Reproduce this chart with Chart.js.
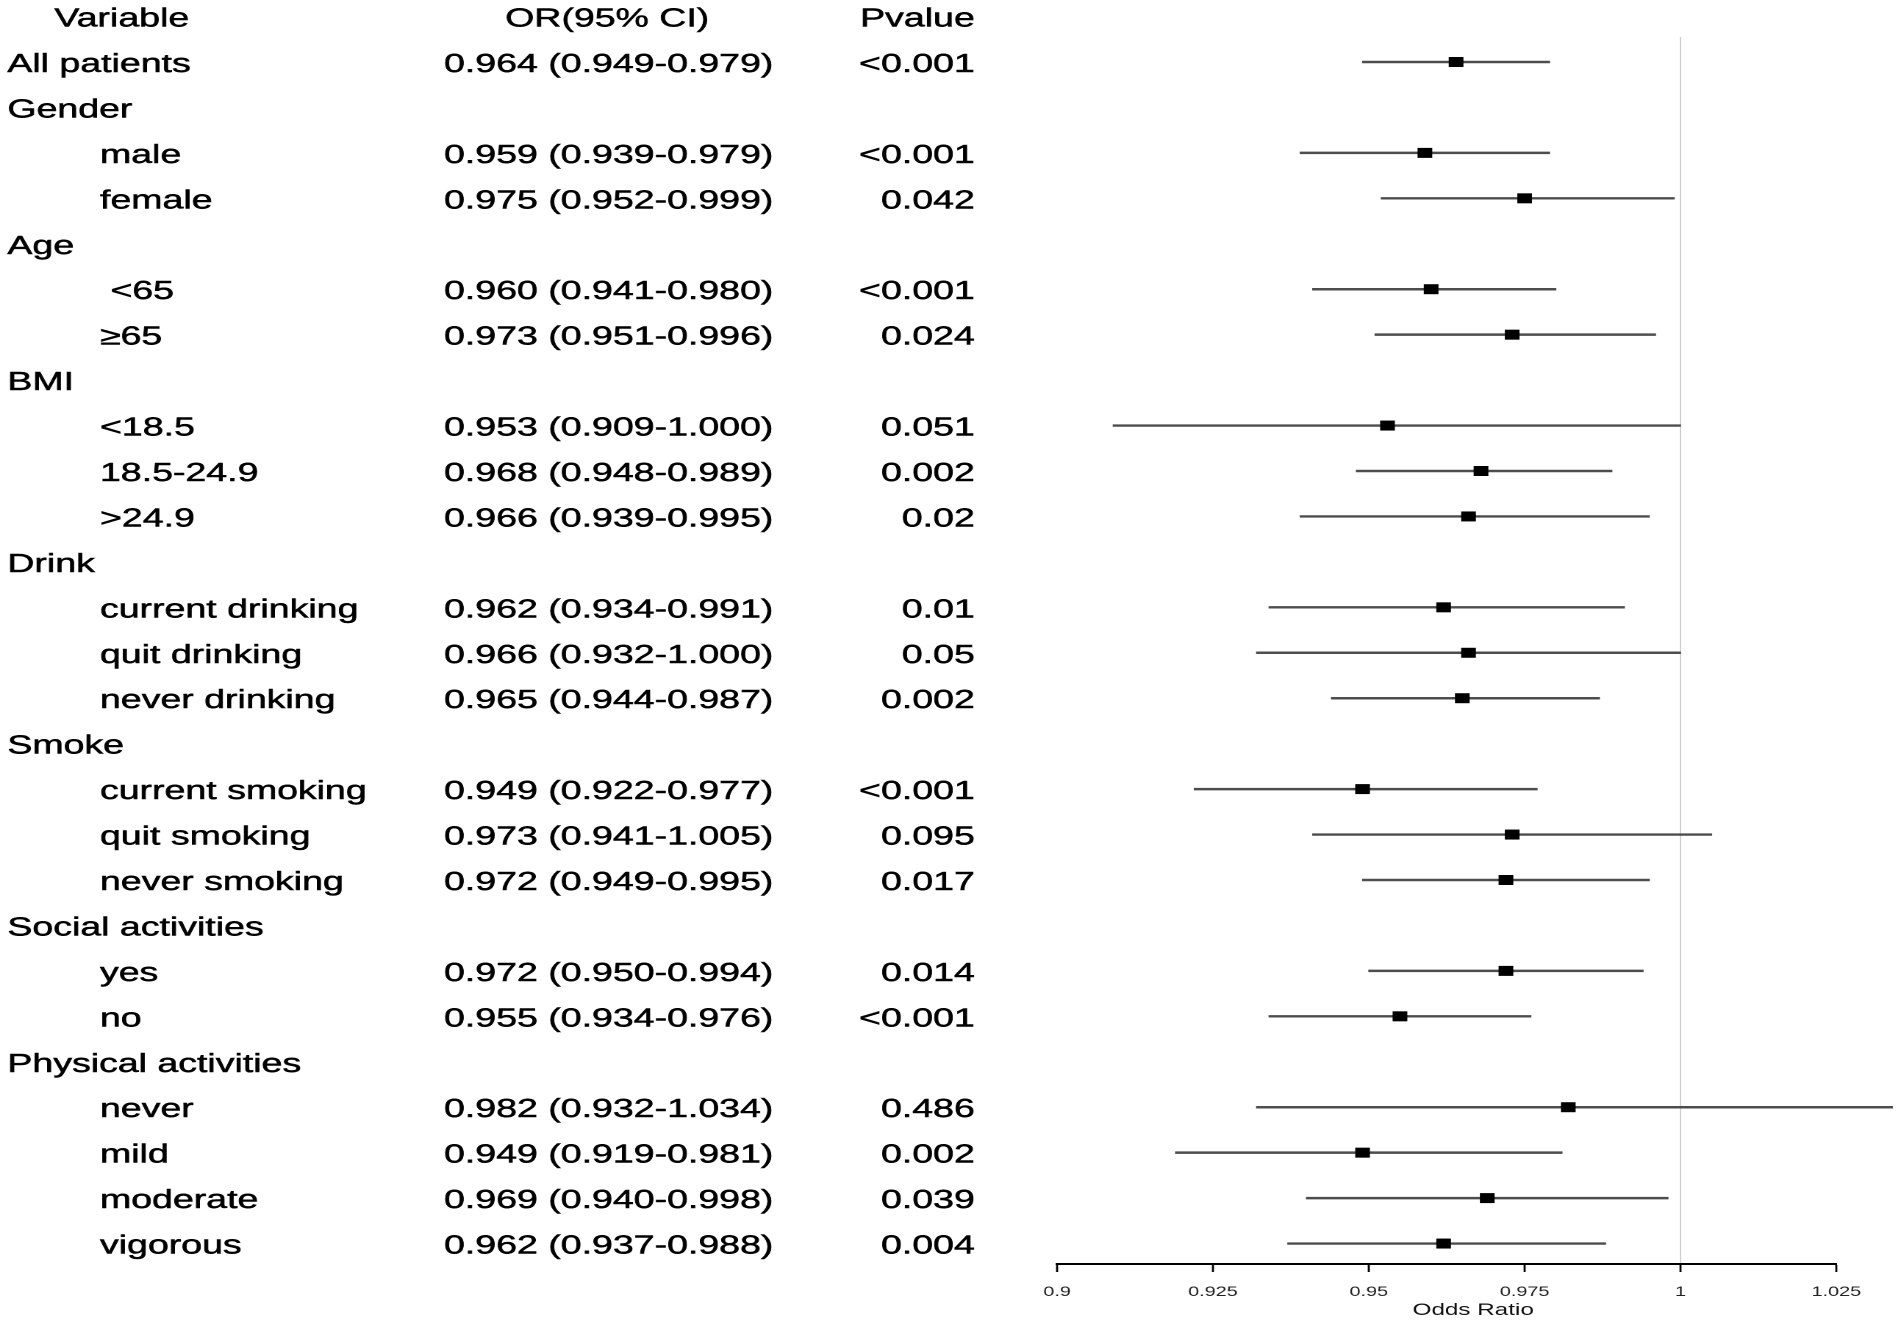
<!DOCTYPE html>
<html>
<head>
<meta charset="utf-8">
<title>Odds ratio forest plot</title>
<script src="https://cdn.jsdelivr.net/npm/chart.js@4.4.1/dist/chart.umd.min.js"></script>
<style>
  html, body { margin: 0; padding: 0; background: #fff; }
  canvas { display: block; }
</style>
</head>
<body>
<!-- the original figure is a horizontally stretched plot, so we draw narrow and let CSS widen it -->
<canvas id="forest" width="1293" height="1321" style="width:1901px;height:1321px"></canvas>
<script>
// ---- data ----
const variables = [
  'All patients', 'Gender', 'male', 'female', 'Age', ' <65', '\u226565',
  'BMI', '<18.5', '18.5-24.9', '>24.9', 'Drink', 'current drinking', 'quit drinking',
  'never drinking', 'Smoke', 'current smoking', 'quit smoking', 'never smoking',
  'Social activities', 'yes', 'no', 'Physical activities', 'never', 'mild', 'moderate', 'vigorous'
];
// 1 = group heading (no indent), 0 = sub item
const isGroup = [1, 1, 0, 0, 1, 0, 0, 1, 0, 0, 0, 1, 0, 0, 0, 1, 0, 0, 0, 1, 0, 0, 1, 0, 0, 0, 0];

const oddsRatio = [0.964, null, 0.959, 0.975, null, 0.960, 0.973, null, 0.953, 0.968, 0.966, null,
  0.962, 0.966, 0.965, null, 0.949, 0.973, 0.972, null, 0.972, 0.955, null, 0.982, 0.949, 0.969, 0.962];
const lowerCI = [0.949, null, 0.939, 0.952, null, 0.941, 0.951, null, 0.909, 0.948, 0.939, null,
  0.934, 0.932, 0.944, null, 0.922, 0.941, 0.949, null, 0.950, 0.934, null, 0.932, 0.919, 0.940, 0.937];
const upperCI = [0.979, null, 0.979, 0.999, null, 0.980, 0.996, null, 1.000, 0.989, 0.995, null,
  0.991, 1.000, 0.987, null, 0.977, 1.005, 0.995, null, 0.994, 0.976, null, 1.034, 0.981, 0.998, 0.988];
const pValues = ['<0.001', '', '<0.001', '0.042', '', '<0.001', '0.024', '', '0.051', '0.002', '0.02', '',
  '0.01', '0.05', '0.002', '', '<0.001', '0.095', '0.017', '', '0.014', '<0.001', '', '0.486', '0.002', '0.039', '0.004'];

const headers = ['Variable', 'OR(95% CI)', 'Pvalue'];
const tickValues = [0.9, 0.925, 0.95, 0.975, 1, 1.025];
const tickLabels = ['0.9', '0.925', '0.95', '0.975', '1', '1.025'];
const axisTitle = 'Odds Ratio';

const FONT = '"Liberation Sans", Arial, sans-serif';

// row 0 is the header, data rows start at 1
const ciBars = [];
const orPoints = [];
variables.forEach((v, i) => {
  if (oddsRatio[i] === null) return;
  ciBars.push({ y: i + 1, x: [lowerCI[i], upperCI[i]] });
  orPoints.push({ y: i + 1, x: oddsRatio[i] });
});

// text table on the left + axis title
const tablePlugin = {
  id: 'forestTable',
  afterDraw(chart) {
    const { ctx, scales: { y } } = chart;
    const rowY = r => y.getPixelForValue(r) + 10;
    // slight stroke so the text weight is closer to the (blurry) original
    const put = (txt, x, yy) => { ctx.fillText(txt, x, yy); ctx.strokeText(txt, x, yy); };
    ctx.save();
    ctx.fillStyle = '#000';
    ctx.strokeStyle = '#000';
    ctx.lineWidth = 0.5;
    ctx.font = '25.5px ' + FONT;

    ctx.textAlign = 'left';
    put(headers[0], 37, rowY(0));
    ctx.textAlign = 'center';
    put(headers[1], 413, rowY(0));
    ctx.textAlign = 'right';
    put(headers[2], 663, rowY(0));

    variables.forEach((name, i) => {
      const yy = rowY(i + 1);
      ctx.textAlign = 'left';
      put(name, isGroup[i] ? 5 : 68, yy);
      if (oddsRatio[i] !== null) {
        const txt = oddsRatio[i].toFixed(3) + ' (' + lowerCI[i].toFixed(3) + '-' + upperCI[i].toFixed(3) + ')';
        put(txt, 302, yy);
      }
      ctx.textAlign = 'right';
      put(pValues[i], 663, yy);
    });

    ctx.font = '16.5px ' + FONT;
    ctx.textAlign = 'center';
    ctx.fillStyle = '#111';
    ctx.fillText(axisTitle, 1002, 1315);
    ctx.restore();
  }
};

new Chart(document.getElementById('forest'), {
  type: 'scatter',
  data: {
    datasets: [
      {
        type: 'scatter',
        order: 0,
        data: orPoints,
        pointStyle: 'rect',
        pointRadius: 7.07,
        backgroundColor: '#000',
        borderWidth: 0,
        clip: false
      },
      {
        type: 'bar',
        order: 1,
        indexAxis: 'y',
        data: ciBars,
        backgroundColor: '#4d4d4d',
        borderWidth: 0,
        barThickness: 1.8,
        clip: false
      }
    ]
  },
  options: {
    responsive: false,
    devicePixelRatio: 2,
    animation: false,
    events: [],
    layout: { padding: { left: 719, right: 44, top: 37, bottom: 0 } },
    plugins: {
      legend: { display: false },
      tooltip: { enabled: false }
    },
    scales: {
      x: {
        type: 'linear',
        position: 'bottom',
        offset: false,
        min: 0.9,
        max: 1.025,
        afterBuildTicks: scale => { scale.ticks = tickValues.map(v => ({ value: v })); },
        afterFit: scale => { scale.height = 57; },
        grid: {
          offset: false,
          drawOnChartArea: true,
          color: c => (c.tick && c.tick.value === 1) ? '#cfcfcf' : 'rgba(0,0,0,0)',
          lineWidth: 1,
          tickColor: '#000',
          tickLength: 8,
          tickWidth: 1.4
        },
        border: { display: true, color: '#000', width: 2 },
        ticks: {
          autoSkip: false,
          maxRotation: 0,
          padding: 12,
          color: '#222',
          font: { family: FONT, size: 13.5 },
          callback: (v, i) => tickLabels[i]
        }
      },
      y: {
        type: 'linear',
        display: false,
        offset: false,
        grid: { offset: false },
        reverse: true,
        min: 0.45,
        max: 27.45
      }
    }
  },
  plugins: [tablePlugin]
});
</script>
</body>
</html>
